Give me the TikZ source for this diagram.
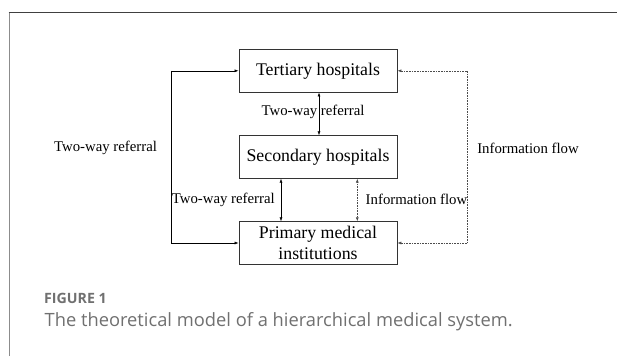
\documentclass[tikz,border=0pt]{standalone}
\usepackage{fontspec}
\setmainfont{Liberation Serif}
\newfontfamily\capfont{Open Sans}
\usetikzlibrary{arrows.meta}
\definecolor{capgray}{HTML}{707070}
\definecolor{boxline}{HTML}{333333}
\tikzset{
  box/.style={draw=boxline, line width=0.8pt, minimum width=158pt, minimum height=42.5pt, inner sep=0pt, align=center, font=\fontsize{17.8}{20.6}\selectfont},
  lbl/.style={inner sep=0pt, font=\fontsize{14.8}{17}\selectfont},
  conn/.style={line width=0.6pt, {Latex[length=4pt,width=3pt]}-{Latex[length=4pt,width=3pt]}},
  info/.style={line width=0.6pt, densely dotted, draw=black!70, {Latex[length=4pt,width=3pt]}-{Latex[length=4pt,width=3pt]}},
  infoone/.style={line width=0.6pt, densely dotted, draw=black!70, -{Latex[length=4pt,width=3pt]}},
  solidone/.style={line width=0.6pt, -{Latex[length=4pt,width=3pt]}},
}
\begin{document}
\begin{tikzpicture}[x=1pt,y=1pt]
\useasboundingbox (0,0) rectangle (617,-356);
\fill[white] (0,0) rectangle (617,-356);
% frame
\draw[line width=1pt, draw=black!45] (9,-356) -- (9,-12.5);
\draw[line width=1.3pt, draw=black!75] (8.5,-12.5) -- (617,-12.5);
% boxes
\node[box] (tert) at (318,-70.8) {Tertiary hospitals};
\node[box] (sec) at (318,-157) {Secondary hospitals};
\node[box] (prim) at (318,-243) {Primary medical\\institutions};
% vertical connectors
\draw[conn] ([xshift=1pt]tert.south) -- ([xshift=1pt]sec.north);
\draw[conn] ([xshift=-37pt]sec.south) -- ([xshift=-37pt]prim.north);
\draw[info] ([xshift=39.3pt]sec.south) -- ([xshift=39.3pt]prim.north);
% loops
\coordinate (lc) at (171,-157);
\coordinate (rc) at (467,-157);
\draw[line width=0.6pt] (lc |- tert.west) -- (lc |- prim.west);
\draw[solidone] (lc |- tert.west) -- (tert.west);
\draw[solidone] (lc |- prim.west) -- (prim.west);
\draw[line width=0.6pt, densely dotted, draw=black!70] (rc |- tert.east) -- (rc |- prim.east);
\draw[infoone] (rc |- tert.east) -- (tert.east);
\draw[infoone] (rc |- prim.east) -- (prim.east);
% labels
\node[lbl] (l1) at (313,-112) {Two-way referral};
\node[lbl] (l2) at (223.3,-199.5) {Two-way referral};
\node[lbl] (l3) at (416.5,-199.5) {Information flow};
\node[lbl] (l4) at (105.5,-148) {Two-way referral};
\node[lbl] (l5) at (528,-148) {Information flow};
% caption
\node[anchor=base west, inner sep=0pt, text=capgray, font=\capfont\bfseries\fontsize{14.2}{16}\selectfont] (fig) at (44,-303.3) {FIGURE 1};
\node[anchor=base west, inner sep=0pt, text=capgray, font=\capfont\fontsize{18.3}{21}\selectfont] (cap) at (44.5,-326.7) {The theoretical model of a hierarchical medical system.};
\end{tikzpicture}
\end{document}
